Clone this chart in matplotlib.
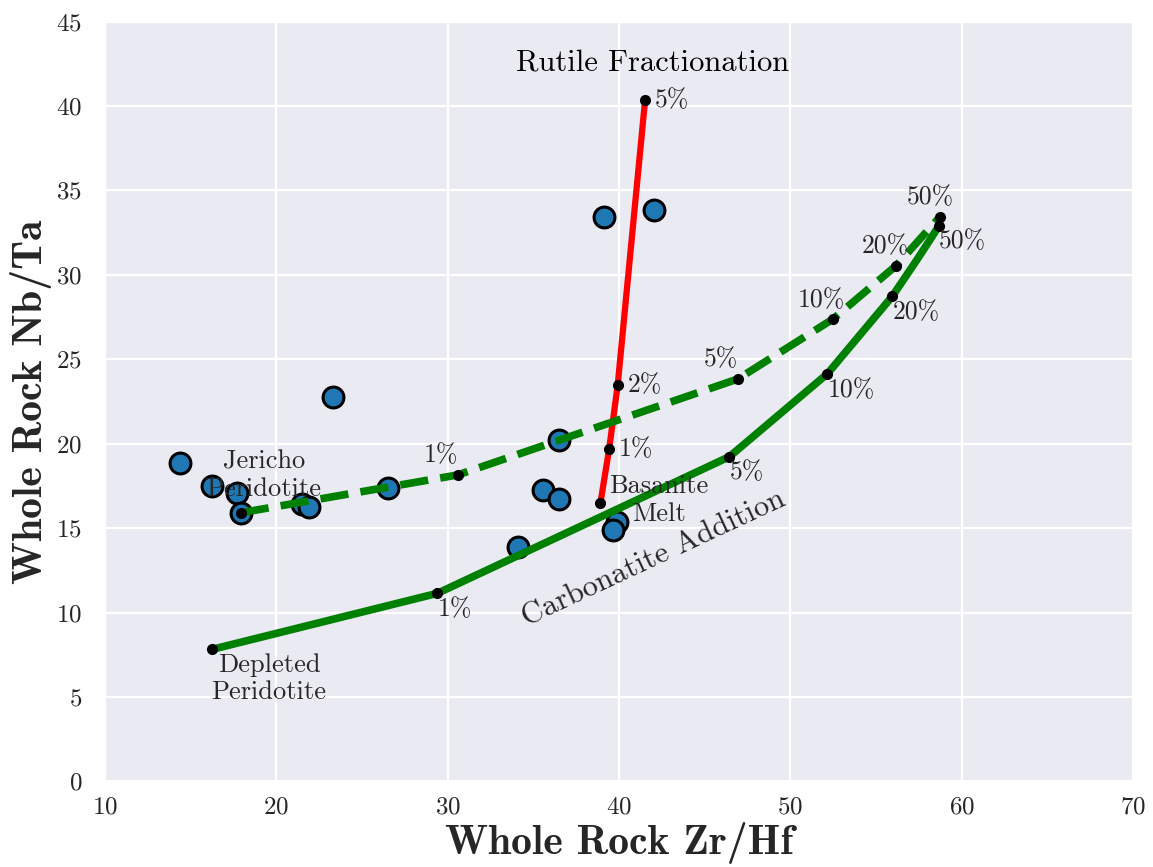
import matplotlib
matplotlib.use("Agg")
import matplotlib.pyplot as plt
import seaborn as sns

# Whole-rock samples
sample_zrhf = [14.38, 16.23, 17.72, 17.92, 21.48, 21.92, 26.52, 23.31,
               39.12, 42.06, 36.48, 35.55, 36.52, 34.13, 39.90, 39.67]
sample_nbta = [18.85, 17.49, 17.06, 15.91, 16.43, 16.27, 17.38, 22.76,
               33.44, 33.84, 20.22, 17.26, 16.71, 13.90, 15.38, 14.89]

# Rutile fractionation from basanite melt
rutile_zrhf = [38.91, 39.42, 39.92, 41.52]
rutile_nbta = [16.47, 19.67, 23.46, 40.35]
rutile_labels = ["", "1%", "2%", "5%"]

# Carbonatite addition to Jericho peridotite (dashed)
jer_zrhf = [17.92, 30.59, 46.93, 52.47, 56.17, 58.73]
jer_nbta = [15.91, 18.15, 23.83, 27.37, 30.54, 33.44]
jer_labels = ["", "1%", "5%", "10%", "20%", "50%"]

# Carbonatite addition to depleted peridotite (solid)
dep_zrhf = [16.25, 29.40, 46.44, 52.16, 55.95, 58.68]
dep_nbta = [7.82, 11.14, 19.23, 24.14, 28.73, 32.91]
dep_labels = ["", "1%", "5%", "10%", "20%", "50%"]
# extra vertices along the curved upper part of the depleted mixing line
dep_path_zrhf = [16.25, 29.40, 46.44, 52.16, 55.95, 57.38, 58.15, 58.68]
dep_path_nbta = [7.82, 11.14, 19.23, 24.14, 28.73, 30.88, 32.08, 32.91]

sns.set_style("darkgrid")
plt.rcParams["font.family"] = ["cmr10", "DejaVu Serif"]
plt.rcParams["axes.formatter.use_mathtext"] = True
plt.rcParams["axes.unicode_minus"] = False

fig = plt.figure(figsize=(11.53, 8.67), dpi=100)
ax = fig.add_axes([0.0911, 0.0987, 0.8916, 0.8765])
ax.grid(True, color="white", linewidth=1.6)

ax.scatter(sample_zrhf, sample_nbta, s=225, color="#1f77b4",
           edgecolors="black", linewidths=2.2, zorder=1)

ax.plot(rutile_zrhf, rutile_nbta, color="red", lw=4.5, zorder=2)
ax.plot(jer_zrhf, jer_nbta, color="green", lw=5.5, ls="--", zorder=2)
ax.plot(dep_path_zrhf, dep_path_nbta, color="green", lw=5.5, zorder=2)

for xs, ys in [(rutile_zrhf, rutile_nbta), (jer_zrhf, jer_nbta), (dep_zrhf, dep_nbta)]:
    ax.plot(xs, ys, "o", color="black", ms=7, zorder=3)

lab_kw = dict(fontsize=18.5, color=".15", textcoords="offset points")

for x, y, t in zip(rutile_zrhf, rutile_nbta, rutile_labels):
    if t:
        ax.annotate(t, (x, y), xytext=(7, 0), ha="left", va="center", **lab_kw)

jer_dx = [0, -12.5, -12, -8, -7.5, -7]
for x, y, t, dx in zip(jer_zrhf, jer_nbta, jer_labels, jer_dx):
    if t:
        ax.annotate(t, (x, y), xytext=(dx, 9), ha="center", va="baseline", **lab_kw)

for x, y, t in zip(dep_zrhf, dep_nbta, dep_labels):
    if t:
        ax.annotate(t, (x, y), xytext=(0, -3), ha="left", va="top", **lab_kw)

txt_kw = dict(fontsize=19, color=".15", ha="center", va="center")
ax.text(41.98, 42.55, "Rutile Fractionation", fontsize=22, color="black",
        ha="center", va="center")
ax.text(19.28, 18.1, "Jericho\nPeridotite", linespacing=1.2, **txt_kw)
ax.text(19.57, 6.1, "Depleted\nPeridotite", linespacing=1.2, **txt_kw)
ax.text(42.33, 16.66, "Basanite\nMelt", linespacing=1.2, **txt_kw)
ax.text(42.0, 13.2, "Carbonatite Addition", fontsize=22, color=".15",
        ha="center", va="center", rotation=25, rotation_mode="anchor")

ax.set_xlim(10, 70)
ax.set_ylim(0, 45)
ax.set_xticks(range(10, 71, 10))
ax.set_yticks(range(0, 46, 5))
ax.tick_params(labelsize=18, labelcolor=".15")
ax.tick_params(axis="y", pad=13)
ax.tick_params(axis="x", pad=7)

ax.set_xlabel("Whole Rock Zr/Hf", fontsize=30, family="cmb10", color=".15",
              labelpad=3)
ax.set_ylabel("Whole Rock Nb/Ta", fontsize=30, family="cmb10", color=".15",
              labelpad=3)

fig.savefig("out.png", dpi=100)
